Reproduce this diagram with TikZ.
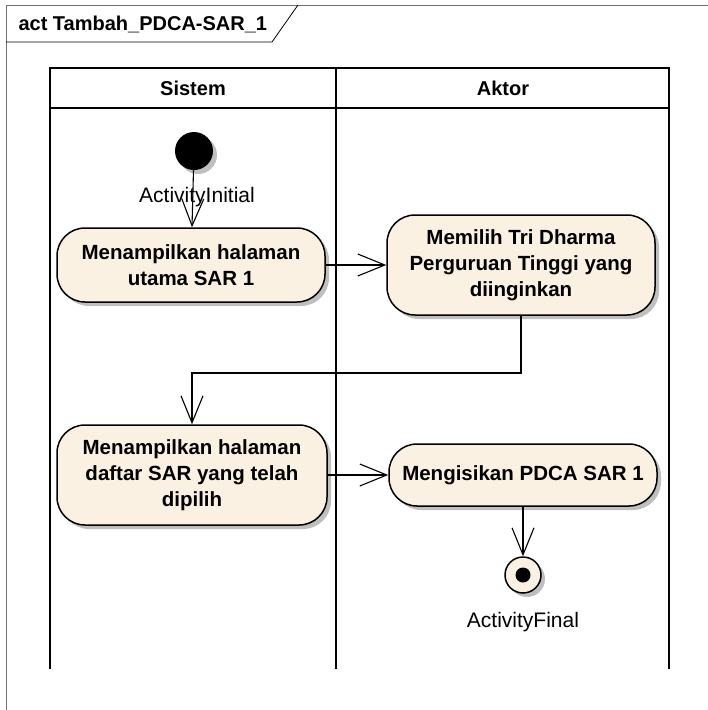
\documentclass[tikz,border=0pt]{standalone}
\usepackage{fontspec}
\setmainfont{Liberation Sans}
\usepackage{xcolor}
\usepackage{tikz}
\usetikzlibrary{positioning,arrows.meta,shadows}
\definecolor{actfill}{HTML}{FBF1E3}

\begin{document}
\begin{tikzpicture}[x=1pt, y=-1pt, >={Straight Barb[length=27pt, width=22pt]},
  act/.style={draw, line width=1.5pt, rounded corners=28pt, fill=actfill, align=center, inner sep=0pt,
    minimum width=268pt, font=\bfseries\fontsize{20.5}{26}\selectfont,
    drop shadow={shadow xshift=4pt, shadow yshift=-4pt, fill=black!25, opacity=1}},
  head/.style={font=\bfseries\fontsize{20}{24}\selectfont},
  lbl/.style={font=\fontsize{21}{24}\selectfont},
  lane/.style={line width=2pt},
  flow/.style={->, line width=1.1pt}]
\useasboundingbox (0,0) rectangle (708,710);
% frame and swimlanes
\draw[black!55, line width=1pt] (708,5) -- (6,5) -- (6,710);
\draw[line width=0.8pt] (6,42) -- (272,42) -- (298,5);
\node[head, anchor=west] (title) at (15,24) {act Tambah\_PDCA-SAR\_1};
\draw[lane] (50,669) -- (50,68) -- (669,68) -- (669,669);
\draw[lane] (50,108) -- (669,108);
\draw[lane] (336,68) -- (336,669);
\node[head] (sistem) at (193,88) {Sistem};
\node[head] (aktor) at (503,88) {Aktor};
% nodes
\node[circle, fill=black, minimum size=38pt, inner sep=0pt,
  drop shadow={shadow xshift=4pt, shadow yshift=-4pt, fill=black!25, opacity=1}] (init) at (194,151) {};
\node[lbl] (initlbl) at (197,197) {ActivityInitial};
\node[act, minimum height=74pt] (tampil) at (191,265) {Menampilkan halaman\\utama SAR 1};
\node[act, minimum height=100pt] (pilih) at (521,265) {Memilih Tri Dharma\\Perguruan Tinggi yang\\diinginkan};
\node[act, minimum width=270pt, minimum height=100pt] (daftar) at (192,475) {Menampilkan halaman\\daftar SAR yang telah\\dipilih};
\node[act, minimum height=62pt] (isi) at (523,475) {Mengisikan PDCA SAR 1};
\node[circle, draw, line width=1.5pt, fill=actfill, minimum size=36pt, inner sep=0pt,
  drop shadow={shadow xshift=4pt, shadow yshift=-4pt, fill=black!25, opacity=1}] (final) at (523,575) {};
\fill (final.center) circle (7.5pt);
\node[lbl] (finallbl) at (523,622) {ActivityFinal};
\coordinate (turn) at (192,373);
% flows
\draw[flow] (init) -- (tampil);
\draw[flow] (tampil.east) -- (pilih.west);
\draw[flow] (pilih.south) |- (turn) -- (daftar.north);
\draw[flow] (daftar.east) -- (isi.west);
\draw[flow] (isi) -- (final);
\end{tikzpicture}
\end{document}
